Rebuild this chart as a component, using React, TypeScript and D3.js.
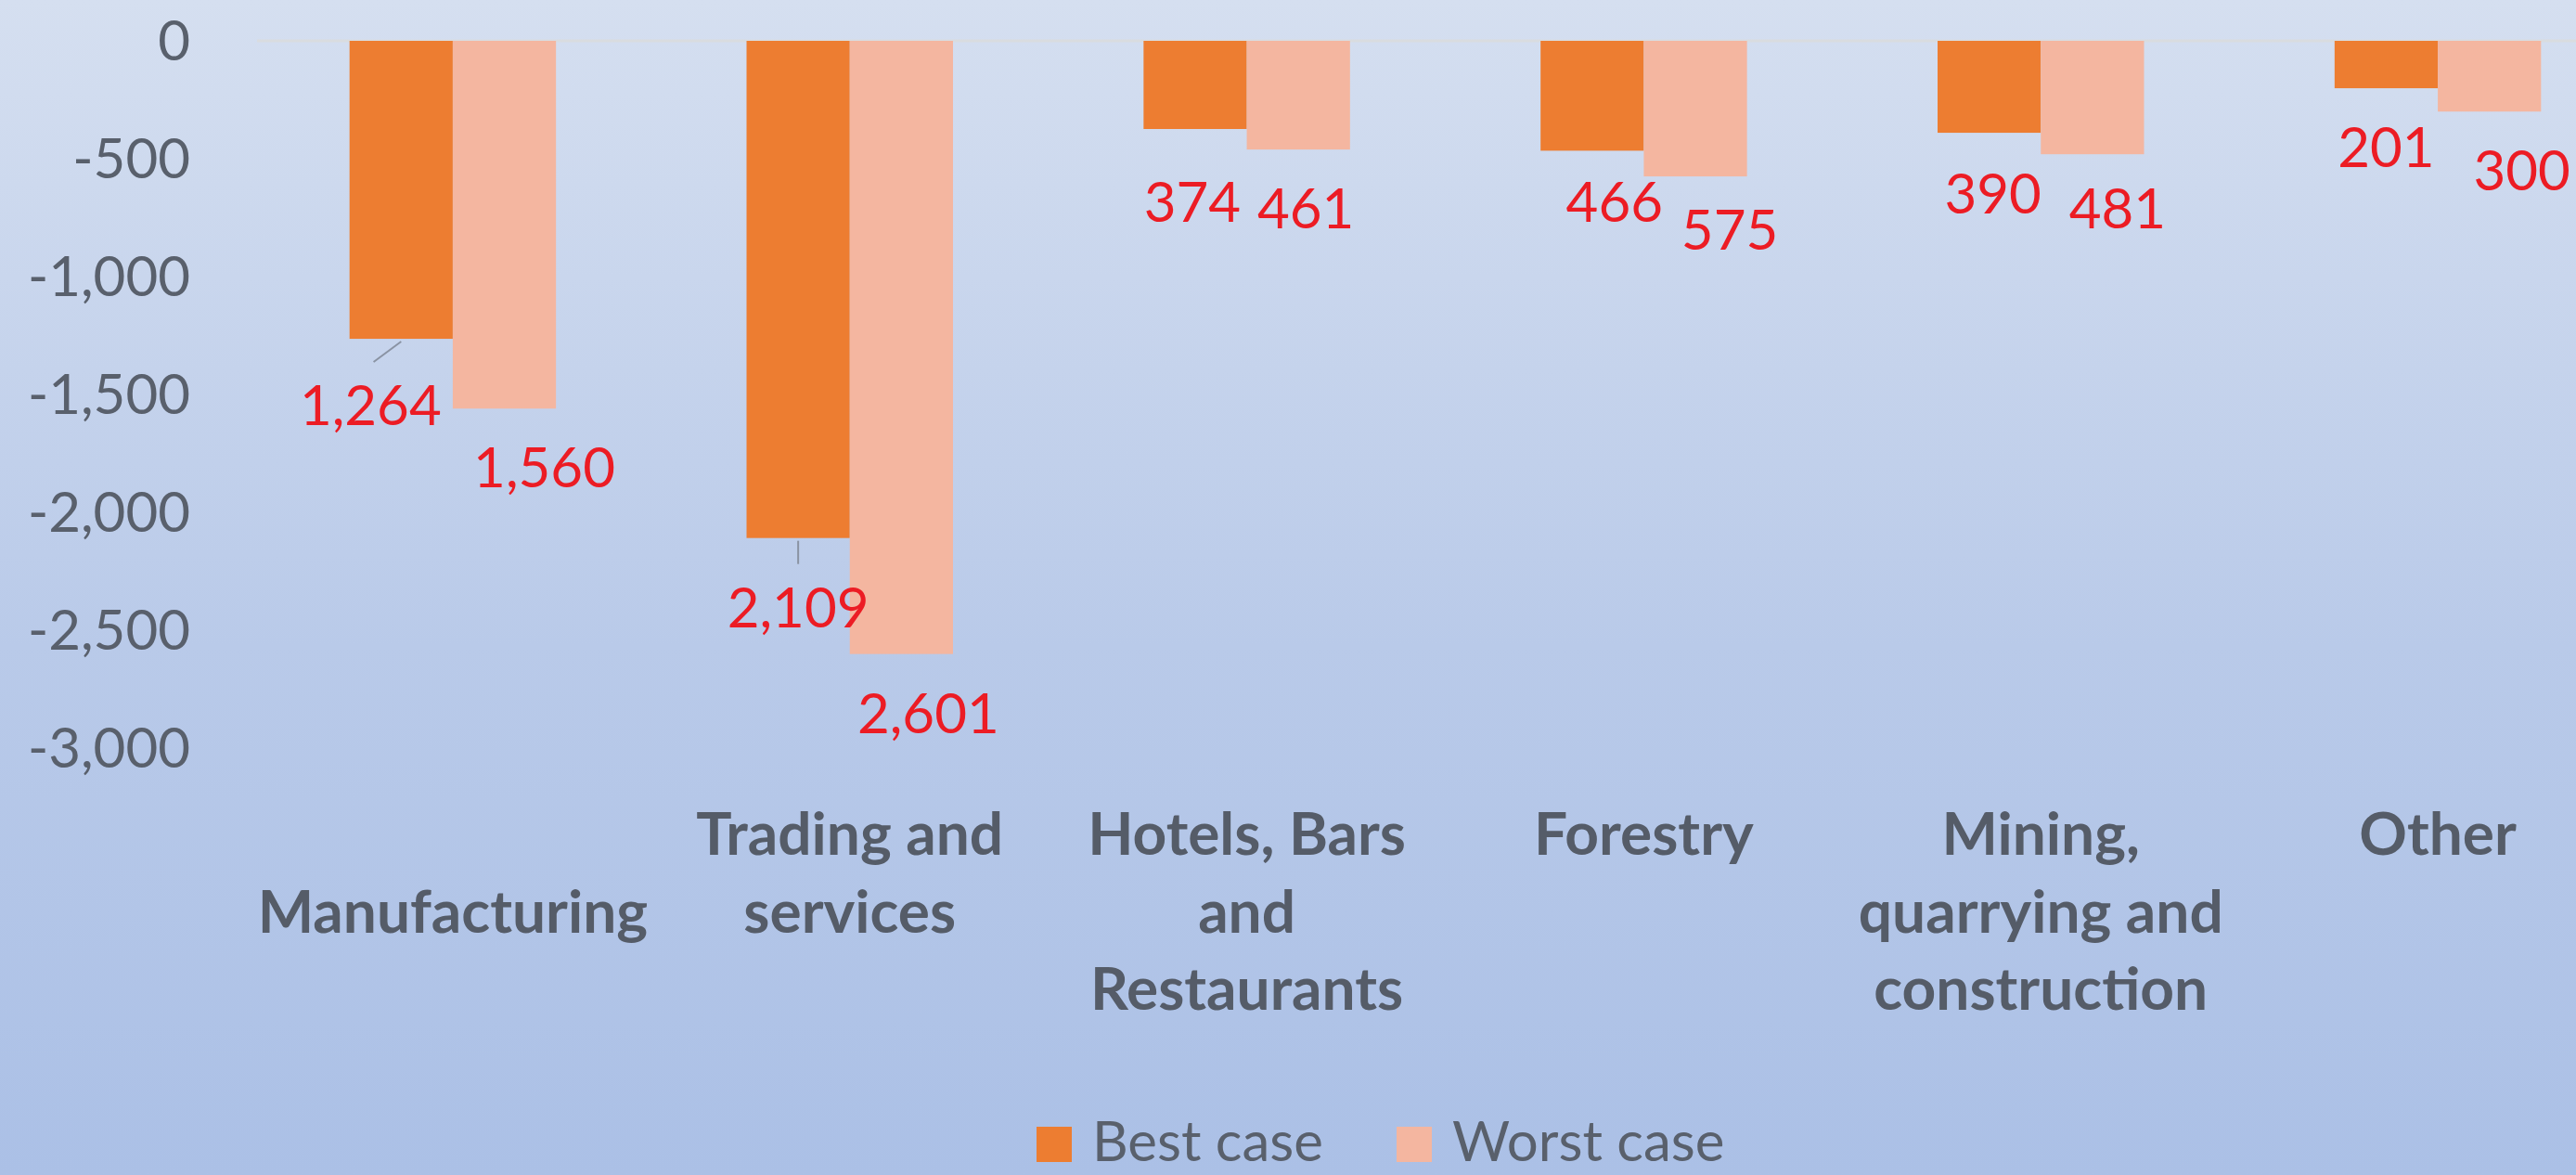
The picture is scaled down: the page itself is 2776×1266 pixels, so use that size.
import React, { useEffect, useRef } from 'react';
import * as d3 from 'd3';

const categories = ['Manufacturing', 'Trading and services', 'Hotels, Bars and Restaurants', 'Forestry', 'Mining, quarrying and construction', 'Other'];
// wrapped lines as they appear under the axis ('' = empty first line)
const categoryLines = [
  ['', 'Manufacturing'],
  ['Trading and', 'services'],
  ['Hotels, Bars', 'and', 'Restaurants'],
  ['Forestry'],
  ['Mining,', 'quarrying and', 'construction'],
  ['Other'],
];
const seriesNames = ['Best case', 'Worst case'];
const bestCase = [-1264, -2109, -374, -466, -390, -201];
const worstCase = [-1560, -2601, -461, -575, -481, -300];
const yTicks = [0, -500, -1000, -1500, -2000, -2500, -3000];

// manual label nudges (px) like the hand-moved labels in the original
const bestNudge = [[-33, 8], [0, 11], [-3, 15], [24, -8], [4, 2], [0, 0]];
const worstNudge = [[43, 0], [29, 0], [8, 0], [37, -6], [27, -5], [35, 0]];
const bestLeader = [true, true, false, false, false, false];

const W = 2776, H = 1266;
const colors = ['#ed7d31', '#f4b6a0'];
const FONT = 'Lato, "Noto Sans", sans-serif';

const App = () => {
  const ref = useRef<SVGSVGElement>(null);

  useEffect(() => {
    const svg = d3.select(ref.current);
    svg.selectAll('*').remove();

    const defs = svg.append('defs');
    const grad = defs.append('linearGradient').attr('id', 'bg').attr('x1', 0).attr('y1', 0).attr('x2', 0).attr('y2', 1);
    grad.append('stop').attr('offset', '0%').attr('stop-color', '#d5dff0');
    grad.append('stop').attr('offset', '55%').attr('stop-color', '#b9cae9');
    grad.append('stop').attr('offset', '100%').attr('stop-color', '#abc0e6');
    svg.append('rect').attr('width', W).attr('height', H).attr('fill', 'url(#bg)');

    const x = d3.scaleBand().domain(categories).range([274, 2841]).paddingInner(0.48).paddingOuter(0.24);
    const xs = d3.scaleBand().domain(seriesNames).range([0, x.bandwidth()]);
    const y = d3.scaleLinear().domain([-3000, 0]).range([806, 44]);

    // zero line
    svg.append('line')
      .attr('x1', 277).attr('x2', W).attr('y1', y(0)).attr('y2', y(0))
      .attr('stroke', '#d9dcdf').attr('stroke-width', 3);

    // y tick labels
    const fmt = d3.format(',');
    svg.append('g').selectAll('text').data(yTicks).enter().append('text')
      .attr('x', 205).attr('y', (d) => y(d) + 21)
      .attr('text-anchor', 'end')
      .attr('font-family', FONT).attr('font-size', 60).attr('fill', '#59606c')
      .text((d) => fmt(d).replace('−', '-'));

    const series = [bestCase, worstCase];
    const nudges = [bestNudge, worstNudge];

    // bars first
    series.forEach((vals, si) => {
      svg.append('g').selectAll('rect').data(vals).enter().append('rect')
        .attr('x', (d, i) => x(categories[i]) + xs(seriesNames[si]))
        .attr('y', y(0))
        .attr('width', xs.bandwidth())
        .attr('height', (d) => y(d) - y(0))
        .attr('fill', colors[si]);
    });

    // then data labels on top
    series.forEach((vals, si) => {
      vals.forEach((v, i) => {
        const cx = x(categories[i]) + xs(seriesNames[si]) + xs.bandwidth() / 2;
        const lx = cx + nudges[si][i][0];
        const base = y(v) + 85 + nudges[si][i][1];
        if (si === 0 && bestLeader[i]) {
          svg.append('line')
            .attr('x1', cx).attr('y1', y(v) + 3)
            .attr('x2', lx + (cx - lx) * 0.1).attr('y2', base - 43 - 25)
            .attr('stroke', '#8a93a3').attr('stroke-width', 2);
        }
        svg.append('text')
          .attr('x', lx).attr('y', base)
          .attr('text-anchor', 'middle')
          .attr('font-family', FONT).attr('font-size', 60).attr('fill', '#ec1c24')
          .text(fmt(Math.abs(v)));
      });
    });

    // category labels
    categoryLines.forEach((lines, i) => {
      const cx = x(categories[i]) + x.bandwidth() / 2;
      lines.forEach((ln, li) => {
        svg.append('text')
          .attr('x', cx).attr('y', 921 + li * 83.5)
          .attr('text-anchor', 'middle')
          .attr('font-family', FONT).attr('font-weight', 'bold').attr('font-size', 64)
          .attr('fill', '#555c68')
          .text(ln);
      });
    });

    // legend
    const legX = [1117, 1505];
    seriesNames.forEach((s, i) => {
      svg.append('rect').attr('x', legX[i]).attr('y', 1214).attr('width', 38).attr('height', 38).attr('fill', colors[i]);
      svg.append('text')
        .attr('x', legX[i] + 60).attr('y', 1251)
        .attr('font-family', FONT).attr('font-size', 60).attr('fill', '#59606c')
        .text(s);
    });
  }, []);

  return (
    <svg ref={ref} width={W} height={H} style={{ position: 'absolute', left: 0, top: 0 }} />
  );
};

export default App;
